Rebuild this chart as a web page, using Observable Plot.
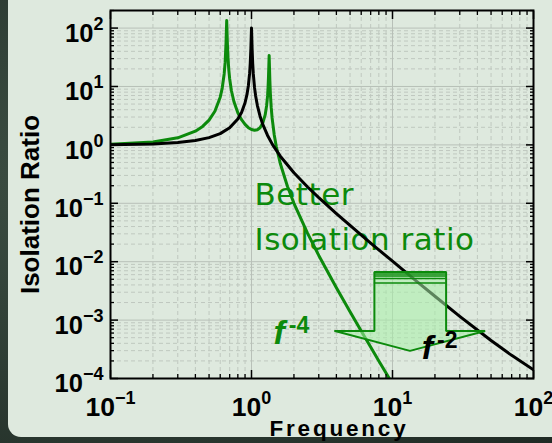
<!DOCTYPE html>
<html><head><meta charset="utf-8">
<script src="https://cdn.jsdelivr.net/npm/d3@7"></script>
<script src="https://cdn.jsdelivr.net/npm/@observablehq/plot@0.6"></script>
<style>
html,body{margin:0;padding:0;}
body{width:552px;height:443px;overflow:hidden;position:relative;
 background:radial-gradient(ellipse at 20% 40%, #3e5044 0%, #2d3c33 55%, #1f2a24 100%);}
#panel{position:absolute;left:8px;top:-14px;width:570px;height:451px;border-radius:13px;background:#dee9de;}
#chart{position:absolute;left:0;top:0;}
</style></head><body>
<div id="panel"></div><div id="chart"></div>
<script>
// ---- data ----
const freqBlack = [0.1,0.2,0.3,0.4,0.5,0.6,0.7,0.8,0.85,0.9,0.93,0.95,0.97,0.98,0.99,1.0,1.01,1.02,1.03,1.05,1.07,1.1,1.15,1.2,1.3,1.41,1.6,2,2.5,3,4,5,7,10,15,20,30,50,70,100];
const ratioBlack = [1.01,1.04,1.10,1.19,1.33,1.56,1.96,2.78,3.60,5.26,7.4,10.3,16.9,25,45,100,44,24.5,16.4,9.75,6.9,4.76,3.1,2.27,1.45,1.01,0.64,0.333,0.19,0.125,0.0667,0.0417,0.0208,0.0102,0.00451,0.00256,0.00116,4.47e-4,2.49e-4,1.41e-4];
const freqGreen = [0.1,0.2,0.3,0.4,0.45,0.5,0.55,0.6,0.62,0.64,0.65,0.66,0.667,0.675,0.68,0.69,0.7,0.72,0.75,0.8,0.85,0.9,0.95,1.0,1.05,1.1,1.15,1.2,1.25,1.28,1.3,1.31,1.32,1.334,1.35,1.36,1.38,1.4,1.45,1.5,1.6,1.8,2.0,2.5,3,4,5,6,7,8,9,10];
const ratioGreen = [1.03,1.12,1.32,1.72,2.07,2.66,3.77,6.56,9.4,16.4,25.6,57,135,52,33,19.5,13.6,8.55,5.53,3.56,2.70,2.24,1.97,1.83,1.78,1.82,1.97,2.34,3.26,4.7,6.9,9.4,14.7,34,12.5,7.8,4.34,2.90,1.48,0.93,0.48,0.194,0.100,0.0305,0.0128,3.58e-3,1.39e-3,6.5e-4,3.46e-4,2.0e-4,1.24e-4,8.1e-5];

const xTickValues = [0.1, 1, 10, 100];
const xTickExponents = ["\u22121", "0", "1", "2"];
const yTickValues = [1e-4, 1e-3, 1e-2, 1e-1, 1, 10, 100];
const yTickExponents = ["\u22124", "\u22123", "\u22122", "\u22121", "0", "1", "2"];
const minorMultipliers = [2,3,4,5,6,7,8,9];

const noteText = ["Better", "Isolation ratio"];
const noteFreq = [1.05, 1.05];
const noteRatio = [0.0925, 0.0156];

const slopeBase = ["f", "f"];
const slopeExp = ["-4", "-2"];
const slopeFreq = [1.43, 16.1];
const slopeRatio = [3.95e-4, 2.19e-4];
const slopeColor = ["#0c8a0c", "#000000"];

const arrowShaft = [7.44, 24.0];
const arrowFreq = [3.91, 7.44, 7.44, 24.0, 24.0, 45.4, 13.3, 3.91];
const arrowRatio = [6.5e-4, 6.5e-4, 6.67e-3, 6.67e-3, 6.5e-4, 6.5e-4, 2.97e-4, 6.5e-4];
const arrowStripeRatio = [6.17e-3, 5.70e-3, 5.16e-3, 4.32e-3];

// ---- build ----
const GREEN = "#0c8a0c";
const black = freqBlack.map((f, i) => ({f, r: ratioBlack[i]}));
const green = freqGreen.map((f, i) => ({f, r: ratioGreen[i]}));
const notes = noteText.map((t, i) => ({t, f: noteFreq[i], r: noteRatio[i]}));
const slopes = slopeBase.map((b, i) => ({t: b + "^" + slopeExp[i], f: slopeFreq[i], r: slopeRatio[i], c: slopeColor[i]}));
const arrow = arrowFreq.map((f, i) => ({f, r: arrowRatio[i]}));
const xMinor = xTickValues.slice(0, -1).flatMap(d => minorMultipliers.map(m => +(d * m).toPrecision(3)));
const yMinor = yTickValues.flatMap(d => minorMultipliers.map(m => +(d * m).toPrecision(3))).filter(v => v <= 200);
const blank = () => "";
const FONT = "Liberation Sans, Arial, sans-serif";
const tickOpts = (size, w) => ({tickSize: size, tickFormat: blank, strokeWidth: w, label: null});

const chart = Plot.plot({
  width: 552, height: 443,
  marginLeft: 110, marginRight: 19, marginTop: 10, marginBottom: 65,
  style: {background: "transparent", overflow: "visible", fontFamily: FONT},
  x: {type: "log", domain: [0.1, 100], axis: null, label: null},
  y: {type: "log", domain: [1e-4, 200], axis: null, label: null},
  marks: [
    Plot.ruleX(xMinor, {stroke: "#bfc8bf", strokeDasharray: "4,3", strokeWidth: 1}),
    Plot.ruleY(yMinor, {stroke: "#bfc8bf", strokeDasharray: "4,3", strokeWidth: 1}),
    Plot.ruleX(xTickValues, {stroke: "#b8c0b8", strokeWidth: 1}),
    Plot.ruleY(yTickValues, {stroke: "#b8c0b8", strokeWidth: 1}),
    Plot.text(notes, {x: "f", y: "r", text: "t", textAnchor: "start", lineAnchor: "bottom",
      fill: GREEN, fontSize: 31, fontFamily: "DejaVu Sans, Verdana, sans-serif"}),
    Plot.line(green, {x: "f", y: "r", stroke: GREEN, strokeWidth: 3, clip: true}),
    Plot.line(black, {x: "f", y: "r", stroke: "#000", strokeWidth: 3, clip: true}),
    Plot.line(arrow, {x: "f", y: "r", fill: "#a8f0a8", fillOpacity: 0.55, stroke: GREEN, strokeWidth: 2, strokeLinejoin: "miter"}),
    Plot.ruleY(arrowStripeRatio, {y: d => d, x1: () => arrowShaft[0], x2: () => arrowShaft[1], stroke: GREEN, strokeWidth: 1.5}),
    Plot.text(slopes, {x: "f", y: "r", text: "t", fill: "c", textAnchor: "start", lineAnchor: "bottom",
      fontSize: 34, fontWeight: "bold", fontStyle: "italic"}),
    // ticks (inward) on all four sides
    Plot.axisX(xMinor, {anchor: "bottom", ...tickOpts(-4, 1.3)}),
    Plot.axisX(xTickValues, {anchor: "bottom", ...tickOpts(-8, 1.5)}),
    Plot.axisX(xMinor, {anchor: "top", ...tickOpts(-4, 1.3)}),
    Plot.axisX(xTickValues, {anchor: "top", ...tickOpts(-8, 1.5)}),
    Plot.axisY(yMinor, {anchor: "left", ...tickOpts(-4, 1.3)}),
    Plot.axisY(yTickValues, {anchor: "left", ...tickOpts(-8, 1.5)}),
    Plot.axisY(yMinor, {anchor: "right", ...tickOpts(-4, 1.3)}),
    Plot.axisY(yTickValues, {anchor: "right", ...tickOpts(-8, 1.5)}),
    Plot.frame({stroke: "#000", strokeWidth: 2}),
    // tick labels
    Plot.text(yTickValues, {y: d => d, text: (d, i) => "10^" + yTickExponents[i], frameAnchor: "left",
      textAnchor: "end", dx: -7, dy: 5.5, fontSize: 25.5, fontWeight: "bold"}),
    Plot.text(xTickValues, {x: d => d, text: (d, i) => "10^" + xTickExponents[i], frameAnchor: "bottom",
      lineAnchor: "bottom", dy: 37, fontSize: 26.5, fontWeight: "bold"}),
    // axis titles
    Plot.text(["Frequency"], {frameAnchor: "bottom", lineAnchor: "bottom", dy: 57, dx: 17,
      fontSize: 22.5, fontWeight: "bold"}),
    Plot.text(["Isolation Ratio"], {frameAnchor: "left", rotate: -90, textAnchor: "middle", lineAnchor: "bottom",
      dx: -72, dy: 10, fontSize: 26, fontWeight: "bold"})
  ]
});
document.getElementById("chart").appendChild(chart);

// superscripts: "base^exp" -> base + raised tspan
d3.select(chart).selectAll("text").each(function () {
  const t = this.textContent, i = t.indexOf("^");
  if (i < 0 || this.querySelector("tspan")) return;
  const el = d3.select(this);
  const isSlope = t.startsWith("f");
  el.text(t.slice(0, i));
  const ts = el.append("tspan")
    .attr("dy", isSlope ? -11 : -12)
    .attr("dx", isSlope ? 4 : 0)
    .attr("font-size", isSlope ? 23 : 18)
    .text(t.slice(i + 1));
  if (isSlope) ts.attr("font-style", "normal");
});
d3.select(chart).selectAll("text").each(function () {
  if (this.textContent === "Frequency") this.style.letterSpacing = "2.8px";
  if (this.textContent === "Better" || this.textContent === "Isolation ratio") this.style.letterSpacing = "0.5px";
});
</script>
</body></html>
